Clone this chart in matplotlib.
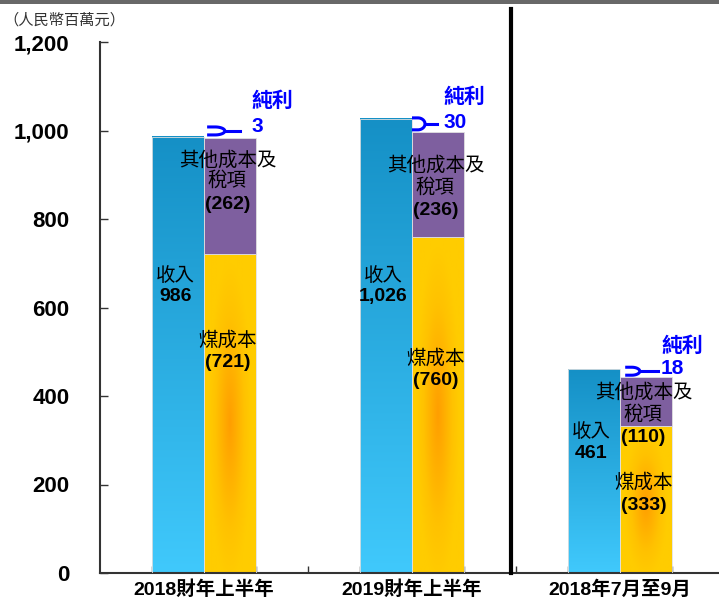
import numpy as np
import matplotlib
matplotlib.use('Agg')
import matplotlib.pyplot as plt
from matplotlib.colors import LinearSegmentedColormap
from matplotlib.ticker import FuncFormatter

# ---------------- data ----------------
groups = ['2018財年上半年', '2019財年上半年', '2018年7月至9月']
revenue = [986, 1026, 461]
coal_cost = [721, 760, 333]
other_cost = [262, 236, 110]
net_profit = [3, 30, 18]
unit_label = '（人民幣百萬元）'
yticks = [0, 200, 400, 600, 800, 1000, 1200]
rev_name = '收入'
coal_name = '煤成本'
other_name = ['其他成本及', '稅項']
profit_name = '純利'

# ---------------- layout ----------------
blue_left = [1, 5, 9]
orange_left = [2, 6, 10]
divider_x = 7.9
# label y positions (data units)
rev_lbl_y = [(673, 624), (673, 624), (319, 271)]
coal_lbl_y = [(527, 475), (486, 434), (206, 152)]
other_lbl_y = [(933, 888, 832), (922, 872, 820), (409, 358, 307)]
np_text = [(2.92, 1069, 1010), (6.6, 1076, 1017), (10.79, 515, 463)]
bracket = [(2.06, 2.40, 2.69, 999, 9), (6.0, 6.25, 6.48, 1015, 13.5), (10.1, 10.38, 10.73, 456, 9)]

NUM = ['Liberation Sans', 'Noto Sans CJK TC']
CJK = ['Noto Sans CJK TC', 'DejaVu Sans']
plt.rcParams['font.family'] = NUM

fig = plt.figure(figsize=(7.19, 6.03), dpi=100)
ax = fig.add_axes([100/719, 30/603, 619/719, 531/603])
ax.set_xlim(0, 619/52)
ax.set_ylim(0, 1200)

blue_cmap = LinearSegmentedColormap.from_list('b', ['#40c9fc', '#1590c6'])
orange_cmap = LinearSegmentedColormap.from_list('o', ['#ff9e00', '#ffb000', '#ffc200', '#ffcc00'])

for i in range(3):
    # revenue bar (vertical gradient)
    bl = blue_left[i]
    grad = np.linspace(0, 1, 200).reshape(-1, 1)
    ax.imshow(grad, extent=[bl, bl + 1, 0, revenue[i]], origin='lower', aspect='auto',
              cmap=blue_cmap, zorder=2, interpolation='bilinear')
    ax.bar(bl + 0.5, revenue[i], width=1, facecolor='none', edgecolor='#e0e0e0', lw=0.6, zorder=3)

    # coal cost bar (radial gradient)
    ol = orange_left[i]
    h = coal_cost[i]
    xx, yy = np.meshgrid(np.linspace(-1, 1, 60), np.linspace(0, 1, 300))
    r = np.sqrt((xx / 0.85) ** 2 + ((yy - 0.47) / 0.5) ** 2)
    t = np.clip(r, 0, 1)
    ax.imshow(t, extent=[ol, ol + 1, 0, h], origin='lower', aspect='auto',
              cmap=orange_cmap, vmin=0, vmax=1, zorder=2, interpolation='bilinear')
    ax.bar(ol + 0.5, h, width=1, facecolor='none', edgecolor='#e0e0e0', lw=0.6, zorder=3)

    # other cost stacked
    ax.bar(ol + 0.5, other_cost[i], bottom=coal_cost[i], width=1, facecolor='#7e5f9f',
           edgecolor='#e0e0e0', lw=0.6, zorder=3)

    # labels
    bx = bl + 0.45
    ax.text(bx, rev_lbl_y[i][0], rev_name, family=CJK, fontsize=14, ha='center', va='center', zorder=5)
    ax.text(bx, rev_lbl_y[i][1], f'{revenue[i]:,}', fontsize=14, weight='bold', ha='center', va='center', zorder=5)
    ox = ol + 0.45
    ax.text(ox, coal_lbl_y[i][0], coal_name, family=CJK, fontsize=14, ha='center', va='center', zorder=5)
    ax.text(ox, coal_lbl_y[i][1], f'({coal_cost[i]})', fontsize=14, weight='bold', ha='center', va='center', zorder=5)
    ax.text(ox, other_lbl_y[i][0], other_name[0], family=CJK, fontsize=14, ha='center', va='center', zorder=5)
    ax.text(ox, other_lbl_y[i][1], other_name[1], family=CJK, fontsize=14, ha='center', va='center', zorder=5)
    ax.text(ox, other_lbl_y[i][2], f'({other_cost[i]})', fontsize=14, weight='bold', ha='center', va='center', zorder=5)

    # net profit bracket + label
    x0, xm, xe, yc, hh = bracket[i]
    rx = (xm - x0) * 0.55
    xs = xm - rx
    th = np.linspace(np.pi / 2, -np.pi / 2, 40)
    px = np.concatenate([[x0], xs + rx * np.cos(th), [x0]])
    py = np.concatenate([[yc + hh], yc + hh * np.sin(th), [yc - hh]])
    ax.plot(px, py, color='#0000ff', lw=2.2, zorder=6, solid_capstyle='butt')
    ax.plot([xm, xe], [yc, yc], color='#0000ff', lw=2.2, zorder=6)
    tx, y1, y2 = np_text[i]
    ax.text(tx, y1, profit_name, family=['Noto Sans CJK TC'], weight='bold', fontsize=15,
            color='#0000ff', ha='left', va='center', zorder=6)
    ax.text(tx, y2, f'{net_profit[i]}', fontsize=15, weight='bold', color='#0000ff',
            ha='left', va='center', zorder=6)

    # group label
    ax.text(orange_left[i], -0.032, groups[i], transform=ax.get_xaxis_transform(),
            fontsize=14, weight='bold', ha='center', va='center', family=NUM)

# divider
ax.plot([divider_x, divider_x], [0, 1274], color='black', lw=3, clip_on=False, zorder=7)

# axes styling
for s in ['top', 'right']:
    ax.spines[s].set_visible(False)
for s in ['left', 'bottom']:
    ax.spines[s].set_color('#333333')
    ax.spines[s].set_linewidth(1.5)
ax.set_yticks(yticks)
ax.yaxis.set_major_formatter(FuncFormatter(lambda v, p: f'{v:,.0f}'))
ax.tick_params(axis='y', direction='in', length=6, width=1, pad=22, labelsize=16, colors='#333333')
for lbl in ax.get_yticklabels():
    lbl.set_fontweight('bold')
    lbl.set_color('black')
ax.set_xticks(np.arange(1, 12))
ax.tick_params(axis='x', direction='in', length=5, width=1, labelbottom=False, colors='#333333')

# unit label and top band
fig.text(3/719, 1 - 20/603, unit_label, family=CJK, fontsize=11, color='#333333', ha='left', va='center')
fig.patches.append(plt.Rectangle((0, 1 - 4/603), 1, 4/603, transform=fig.transFigure,
                                 facecolor='#686868', edgecolor='none'))

fig.savefig('out.png', dpi=100)
